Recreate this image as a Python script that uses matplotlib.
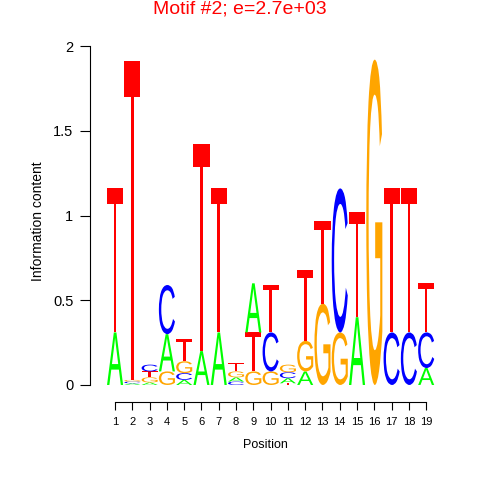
import matplotlib
matplotlib.use('Agg')
import matplotlib.pyplot as plt
from matplotlib.textpath import TextPath
from matplotlib.patches import PathPatch
from matplotlib.font_manager import FontProperties
from matplotlib.transforms import Affine2D

plt.rcParams['font.family'] = ['Liberation Sans', 'DejaVu Sans']

# information content per letter, positions 1..19
positions = list(range(1, 20))
A = [0.31, 0.01, 0.015, 0.22, 0.03, 0.20, 0.31, 0.025, 0.29, 0.00, 0.03, 0.08, 0.00, 0.00, 0.40, 0.00, 0.00, 0.00, 0.10]
C = [0.00, 0.01, 0.040, 0.29, 0.04, 0.00, 0.00, 0.020, 0.00, 0.23, 0.035, 0.00, 0.00, 0.85, 0.00, 0.00, 0.31, 0.31, 0.21]
G = [0.00, 0.01, 0.030, 0.08, 0.07, 0.00, 0.00, 0.035, 0.08, 0.08, 0.045, 0.18, 0.48, 0.31, 0.00, 1.92, 0.00, 0.00, 0.00]
T = [0.85, 1.88, 0.035, 0.00, 0.13, 1.22, 0.85, 0.050, 0.23, 0.28, 0.01, 0.42, 0.49, 0.00, 0.62, 0.00, 0.85, 0.85, 0.29]

heights = {'A': A, 'C': C, 'G': G, 'T': T}
colors = {'A': '#00FF00', 'C': '#0000FF', 'G': '#FFA500', 'T': '#FF0000'}

fp = FontProperties(family='Liberation Sans')


def draw_letter(ax, letter, x, y, w, h):
    tp = TextPath((0, 0), letter, size=1, prop=fp)
    bb = tp.get_extents()
    tr = Affine2D().translate(-bb.x0, -bb.y0).scale(w / bb.width, h / bb.height).translate(x - w / 2, y)
    ax.add_patch(PathPatch(tr.transform_path(tp), facecolor=colors[letter], edgecolor='none'))


fig = plt.figure(figsize=(4.8, 4.8), dpi=100)
ax = fig.add_axes([90 / 480, 0.1556, 350 / 480, 0.766])

for i, pos in enumerate(positions):
    stack = sorted(heights, key=lambda k: heights[k][i])
    y = 0
    for letter in stack:
        h = heights[letter][i]
        if h > 0.004:
            draw_letter(ax, letter, pos, y, 0.93, h)
        y += h

ax.set_xlim(-0.45, 19.8)
ax.set_ylim(-0.12, 2.05)

for s in ['top', 'right']:
    ax.spines[s].set_visible(False)
ax.spines['left'].set_bounds(0, 2)
ax.spines['bottom'].set_position(('data', -0.1))
ax.spines['bottom'].set_bounds(1, 19)

ax.set_yticks([0, 0.5, 1, 1.5, 2])
ax.set_yticklabels(['0', '0.5', '1', '1.5', '2'], fontsize=10.5)
ax.set_xticks(positions)
ax.set_xticklabels([str(p) for p in positions], fontsize=8)
ax.tick_params(axis='y', length=7, pad=5)
ax.tick_params(axis='x', length=5.5, pad=5)

ax.set_ylabel('Information content', fontsize=10, labelpad=6)
ax.set_xlabel('Position', fontsize=9, labelpad=9)
fig.text(240 / 480, 1 - 9 / 480, 'Motif #2; e=2.7e+03', color='#FF0000', fontsize=14, ha='center', va='center')

fig.savefig('out.png', dpi=100)
